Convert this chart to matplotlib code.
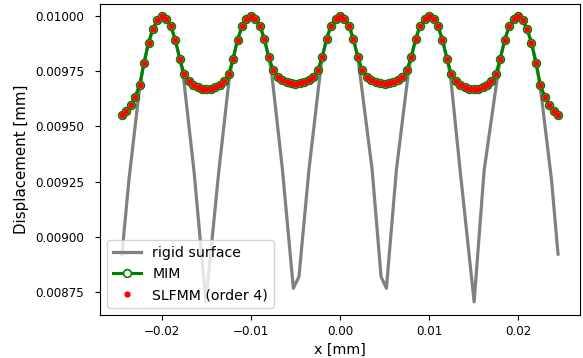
import matplotlib
matplotlib.use("Agg")
import matplotlib.pyplot as plt

# Sample positions of the computed surface [mm]
x_nodes = [
    -0.0245, -0.0240, -0.0235, -0.0230, -0.0225, -0.0220, -0.0215, -0.0210, -0.0205, -0.0200,
    -0.0195, -0.0190, -0.0185, -0.0180, -0.0175, -0.0170, -0.0165, -0.0160, -0.0155, -0.0150,
    -0.0145, -0.0140, -0.0135, -0.0130, -0.0125, -0.0120, -0.0115, -0.0110, -0.0105, -0.0100,
    -0.0095, -0.0090, -0.0085, -0.0080, -0.0075, -0.0070, -0.0065, -0.0060, -0.0055, -0.0050,
    -0.0045, -0.0040, -0.0035, -0.0030, -0.0025, -0.0020, -0.0015, -0.0010, -0.0005, 0.0000,
    0.0005, 0.0010, 0.0015, 0.0020, 0.0025, 0.0030, 0.0035, 0.0040, 0.0045, 0.0050,
    0.0055, 0.0060, 0.0065, 0.0070, 0.0075, 0.0080, 0.0085, 0.0090, 0.0095, 0.0100,
    0.0105, 0.0110, 0.0115, 0.0120, 0.0125, 0.0130, 0.0135, 0.0140, 0.0145, 0.0150,
    0.0155, 0.0160, 0.0165, 0.0170, 0.0175, 0.0180, 0.0185, 0.0190, 0.0195, 0.0200,
    0.0205, 0.0210, 0.0215, 0.0220, 0.0225, 0.0230, 0.0235, 0.0240, 0.0245,
]

# MIM displacement [mm]
mim_disp = [
    0.009549, 0.009571, 0.009596, 0.009634, 0.009687, 0.009786, 0.009877, 0.009940, 0.009979, 0.009998,
    0.009984, 0.009952, 0.009891, 0.009806, 0.009736, 0.009703, 0.009686, 0.009676, 0.009670, 0.009668,
    0.009670, 0.009676, 0.009686, 0.009703, 0.009736, 0.009806, 0.009891, 0.009952, 0.009984, 0.009998,
    0.009984, 0.009955, 0.009895, 0.009812, 0.009755, 0.009722, 0.009707, 0.009699, 0.009694, 0.009692,
    0.009694, 0.009699, 0.009707, 0.009722, 0.009755, 0.009812, 0.009895, 0.009955, 0.009984, 0.009998,
    0.009984, 0.009955, 0.009895, 0.009812, 0.009755, 0.009722, 0.009707, 0.009699, 0.009694, 0.009692,
    0.009694, 0.009699, 0.009707, 0.009722, 0.009755, 0.009812, 0.009895, 0.009955, 0.009984, 0.009998,
    0.009984, 0.009952, 0.009891, 0.009806, 0.009736, 0.009703, 0.009686, 0.009676, 0.009670, 0.009668,
    0.009670, 0.009676, 0.009686, 0.009703, 0.009736, 0.009806, 0.009891, 0.009952, 0.009984, 0.009998,
    0.009979, 0.009940, 0.009877, 0.009786, 0.009687, 0.009634, 0.009596, 0.009571, 0.009549,
]

# SLFMM (order 4) displacement [mm] (coincides with MIM)
slfmm_disp = list(mim_disp)

# Rigid surface profile [mm]
x_rigid = [
    -0.02448, -0.0237, -0.0226, -0.0221, -0.0215, -0.0210, -0.0205, -0.0200, -0.0195, -0.0190,
    -0.0185, -0.0180, -0.0176, -0.0164, -0.01506, -0.0136, -0.0124, -0.0120, -0.0115, -0.0110,
    -0.0105, -0.0100, -0.0095, -0.0090, -0.0085, -0.0080, -0.0077, -0.00646, -0.00524, -0.00461,
    -0.00349, -0.0022, -0.0020, -0.0015, -0.0010, -0.0005, 0.0000, 0.0005, 0.0010, 0.0015,
    0.0020, 0.0022, 0.00361, 0.00461, 0.00521, 0.00633, 0.0077, 0.0080, 0.0085, 0.0090,
    0.0095, 0.0100, 0.0105, 0.0110, 0.0115, 0.0120, 0.0124, 0.01349, 0.01506, 0.01618,
    0.0177, 0.0180, 0.0185, 0.0190, 0.0195, 0.0200, 0.0205, 0.0210, 0.0215, 0.0221,
    0.0226, 0.02375, 0.02448,
]
y_rigid = [
    0.008923, 0.009258, 0.009640, 0.009771, 0.009877, 0.009940, 0.009979, 0.009998, 0.009984, 0.009952,
    0.009891, 0.009806, 0.009730, 0.009300, 0.008708, 0.009300, 0.009730, 0.009806, 0.009891, 0.009952,
    0.009984, 0.009998, 0.009984, 0.009955, 0.009895, 0.009812, 0.009750, 0.009303, 0.008769, 0.008821,
    0.009303, 0.009750, 0.009812, 0.009895, 0.009955, 0.009984, 0.009998, 0.009984, 0.009955, 0.009895,
    0.009812, 0.009750, 0.009303, 0.008821, 0.008769, 0.009303, 0.009750, 0.009812, 0.009895, 0.009955,
    0.009984, 0.009998, 0.009984, 0.009952, 0.009891, 0.009806, 0.009730, 0.009300, 0.008708, 0.009300,
    0.009730, 0.009806, 0.009891, 0.009952, 0.009984, 0.009998, 0.009979, 0.009940, 0.009877, 0.009771,
    0.009640, 0.009258, 0.008923,
]

fig = plt.figure(figsize=(5.83, 3.58), dpi=100)
ax = fig.add_axes([0.1715, 0.120, 0.8234, 0.870])

ax.plot(x_rigid, y_rigid, color="gray", lw=2.3, label="rigid surface")
ax.plot(x_nodes, mim_disp, color="green", lw=2.2, marker="o", markersize=5.6,
        markerfacecolor="white", markeredgecolor="green", markeredgewidth=1.2,
        label="MIM")
ax.plot(x_nodes, slfmm_disp, linestyle="none", marker=".", color="red",
        markersize=7, label="SLFMM (order 4)")

ax.set_xlim(-0.02695, 0.02695)
ax.set_ylim(0.008648, 0.010054)
ax.set_xticks([-0.02, -0.01, 0.0, 0.01, 0.02])
ax.set_xticklabels(["\u22120.02", "\u22120.01", "0.00", "0.01", "0.02"])
ax.set_yticks([0.00875, 0.00900, 0.00925, 0.00950, 0.00975, 0.01000])
ax.set_yticklabels(["0.00875", "0.00900", "0.00925", "0.00950", "0.00975", "0.01000"])
ax.tick_params(labelsize=8.6)
ax.tick_params(axis="y", pad=8.0)
ax.set_xlabel("x [mm]", fontsize=10.3)
ax.set_ylabel("Displacement [mm]", fontsize=10.8)
ax.legend(loc="lower left", fontsize=10.2)

fig.savefig("out.png", dpi=100)
